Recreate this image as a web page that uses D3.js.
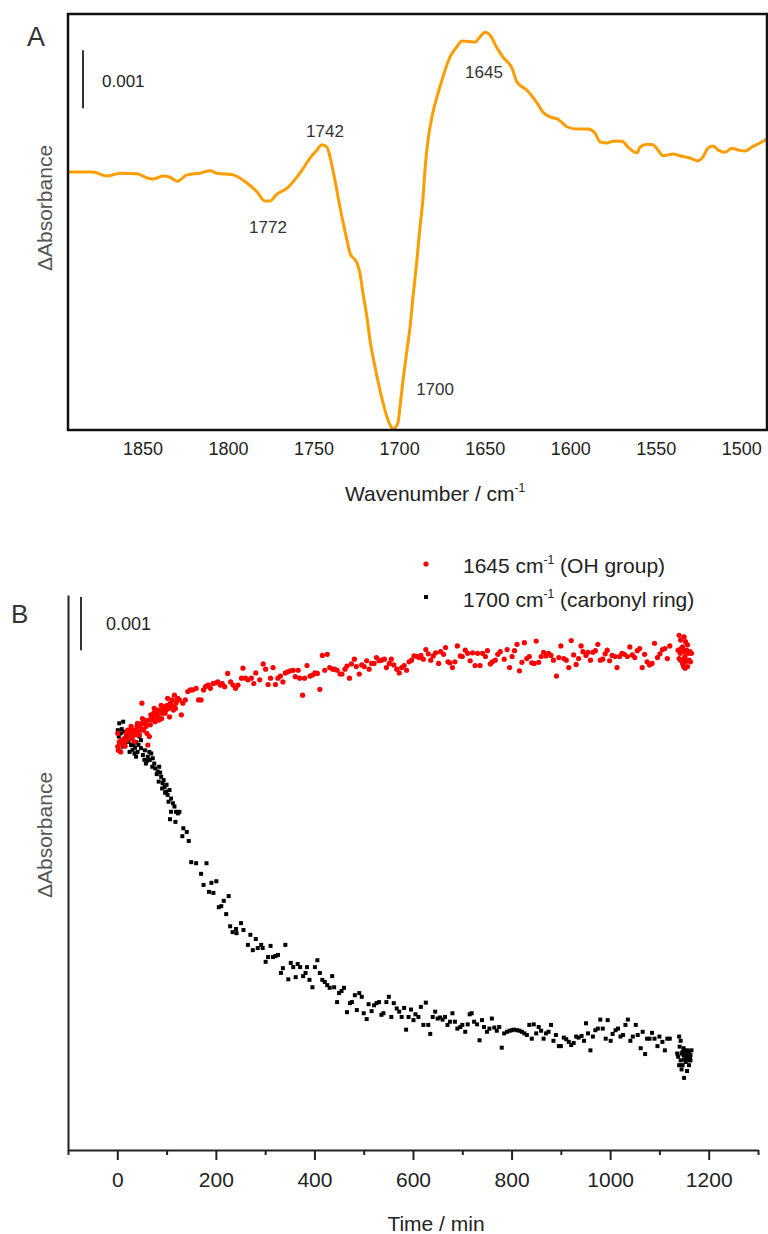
<!DOCTYPE html>
<html>
<head>
<meta charset="utf-8">
<script src="https://cdn.jsdelivr.net/npm/d3@7"></script>
<style>
  body{margin:0;background:#fff;}
  svg{display:block;font-family:"Liberation Sans",Arial,Helvetica,sans-serif;}
</style>
</head>
<body>
<svg id="fig" width="768" height="1234"></svg>
<script>
/* ----- data ------------------------------------------------- */
// panel A : difference spectrum  [wavenumber cm-1, dA x1e-3]
const spectrum = [
  [1893,0.00],[1891.5,0.00],[1879.2,0.00],[1871,-0.07],[1863.4,-0.02],[1853.5,-0.03],[1847.7,-0.10],
  [1844.2,-0.12],[1838.3,-0.07],[1834.2,-0.09],[1830.1,-0.16],[1824.3,-0.05],[1816.7,-0.02],[1810.8,0.02],
  [1806.8,-0.02],[1797.4,-0.05],[1789.2,-0.19],[1783.4,-0.34],[1778.7,-0.50],[1775.8,-0.50],[1771.7,-0.38],
  [1765.8,-0.28],[1762.3,-0.17],[1757.1,0.03],[1752.4,0.24],[1748.3,0.38],[1745.4,0.47],[1742.5,0.43],
  [1740.7,0.26],[1737.8,-0.14],[1734.9,-0.60],[1730.8,-1.17],[1729,-1.40],[1724.9,-1.57],[1723.2,-1.74],
  [1721.4,-2.09],[1719.1,-2.50],[1717.3,-2.90],[1714.4,-3.36],[1711.5,-3.76],[1708.6,-4.10],[1705.6,-4.36],
  [1703.9,-4.43],[1701,-4.33],[1699.8,-4.05],[1698,-3.59],[1695.7,-3.07],[1693.9,-2.67],[1692.2,-2.16],
  [1689.9,-1.52],[1688.1,-0.95],[1686.4,-0.48],[1685.2,0.03],[1683.4,0.55],[1681.1,0.95],[1678.2,1.29],
  [1674.7,1.64],[1670.6,1.98],[1666.5,2.16],[1663.6,2.26],[1656,2.24],[1653,2.33],[1650.1,2.41],
  [1647.2,2.36],[1643.1,2.14],[1639.6,1.98],[1634.3,1.79],[1631.4,1.55],[1625.6,1.41],[1619.7,1.19],
  [1616.2,1.03],[1612.1,0.95],[1607.5,0.91],[1602.2,0.78],[1596.3,0.74],[1589.9,0.74],[1585.8,0.67],
  [1582.9,0.52],[1578.8,0.50],[1575.3,0.53],[1570,0.53],[1566.5,0.43],[1561.3,0.33],[1559.5,0.43],
  [1555.4,0.48],[1551.9,0.47],[1549,0.38],[1546.1,0.28],[1540.2,0.31],[1536.2,0.28],[1530.3,0.24],
  [1525.6,0.19],[1522.7,0.26],[1519.8,0.41],[1516.9,0.45],[1513.9,0.38],[1509.8,0.34],[1505.8,0.41],
  [1502.3,0.38],[1498.1,0.36],[1494.1,0.43],[1489.4,0.50],[1485.3,0.57]
];
const peakTags = ['1772','1742','1645','1700'];
const wnTicks  = [1850,1800,1750,1700,1650,1600,1550,1500];

// panel B : band kinetics  [time min, dA x1e-3]
const ohBand = [   // 1645 cm-1
  [1,0.22],[1,-0.03],[2,-0.10],[4,0.06],[5,0.02],[7,-0.13],[8,0.09],[11,0.00],[12,0.04],[14,0.12],
  [16,-0.02],[18,0.22],[19,0.08],[21,0.28],[23,0.19],[24,0.16],[26,0.28],[28,0.35],[30,0.12],[31,0.22],
  [33,0.28],[35,0.06],[36,0.19],[38,0.28],[40,0.35],[41,0.41],[43,0.25],[45,0.19],[46,0.38],[48,0.31],
  [50,0.41],[50,0.79],[51,0.50],[53,0.28],[55,0.47],[57,0.41],[58,0.35],[60,0.22],[62,0.00],[64,0.47],
  [65,0.16],[67,0.38],[68,0.57],[70,0.53],[72,0.47],[74,0.60],[75,0.69],[77,0.44],[79,0.53],[80,0.60],
  [82,0.66],[83,0.57],[85,0.47],[87,0.66],[89,0.75],[90,0.50],[92,0.60],[94,0.72],[96,0.69],[97,0.60],
  [99,0.66],[101,0.75],[102,0.88],[104,0.69],[106,0.53],[108,0.79],[109,0.75],[111,0.85],[113,0.72],
  [114,0.66],[116,0.94],[118,0.69],[119,0.79],[121,0.85],[123,0.88],[126,0.85],[130,0.57],[133,0.79],
  [138,0.85],[143,1.01],[148,1.04],[153,1.04],[160,1.07],[165,0.85],[170,0.85],[175,1.04],[179,1.10],
  [184,1.13],[189,1.07],[194,1.16],[199,1.17],[204,1.19],[209,1.13],[213,1.16],[218,1.10],[224,1.35],
  [230,1.19],[235,1.13],[240,1.07],[245,1.13],[252,1.26],[255,1.45],[260,1.26],[265,1.23],
  [272,1.26],[277,1.16],[281,1.36],[289,1.23],[296,1.53],[301,1.43],[306,1.14],[311,1.26],[316,1.46],
  [321,1.14],[326,1.26],[331,1.30],[336,1.19],[341,1.36],[346,1.38],[351,1.40],[357,1.41],[361,1.29],
  [367,1.41],[370,1.26],[376,0.94],[380,1.26],[385,1.50],[391,1.30],[396,1.32],[401,1.36],[406,1.35],
  [411,1.05],[416,1.69],[421,1.41],[426,1.71],[431,1.46],[437,1.43],[441,1.43],[446,1.41],[452,1.34],
  [456,1.34],[462,1.43],[466,1.49],[471,1.26],[475,1.53],[481,1.62],[485,1.48],[491,1.34],[496,1.51],
  [501,1.48],[506,1.59],[511,1.43],[516,1.54],[521,1.54],[526,1.65],[531,1.59],[536,1.60],[542,1.62],
  [546,1.46],[552,1.54],[556,1.62],[561,1.51],[567,1.43],[572,1.36],[577,1.46],[582,1.50],[587,1.41],
  [592,1.57],[597,1.60],[602,1.68],[608,1.67],[612,1.65],[616,1.69],[621,1.62],[626,1.80],[631,1.72],
  [636,1.60],[641,1.68],[646,1.74],[652,1.54],[656,1.76],[662,1.71],[666,1.84],[671,1.57],[675,1.55],
  [680,1.46],[685,1.57],[690,1.87],[696,1.68],[700,1.67],[706,1.79],[711,1.73],[716,1.59],[721,1.74],
  [726,1.50],[731,1.73],[736,1.50],[741,1.73],[747,1.67],[751,1.78],[757,1.53],[761,1.57],[767,1.60],
  [772,1.71],[777,1.76],[785,1.62],[791,1.80],[796,1.46],[801,1.67],[806,1.78],[811,1.90],[816,1.40],
  [821,1.56],[826,1.93],[831,1.63],[836,1.67],[841,1.55],[846,1.54],[850,1.96],[855,1.56],[860,1.67],
  [865,1.75],[870,1.68],[875,1.73],[880,1.69],[885,1.60],[891,1.30],[896,1.65],[900,1.87],[906,1.63],
  [911,1.60],[916,1.46],[921,1.97],[926,1.70],[931,1.52],[936,1.63],[941,1.87],[945,1.76],[951,1.69],
  [955,1.75],[960,1.60],[965,1.75],[970,1.78],[975,1.90],[980,1.60],[985,1.62],[990,1.72],[994,1.79],
  [999,1.59],[1004,1.69],[1010,1.67],[1014,1.46],[1019,1.67],[1024,1.73],[1029,1.71],[1035,1.67],
  [1040,1.85],[1045,1.70],[1050,1.65],[1055,1.78],[1060,1.82],[1065,1.46],[1070,1.71],[1075,1.57],
  [1080,1.51],[1085,1.54],[1090,1.92],[1096,1.65],[1101,1.72],[1106,1.80],[1111,1.82],[1116,1.63],
  [1121,1.87],[1140,2.07],[1143,1.98],[1147,1.85],[1150,2.04],[1153,1.95],[1157,1.89],[1138,1.79],
  [1142,1.73],[1144,1.82],[1149,1.76],[1152,1.67],[1155,1.79],[1159,1.73],[1162,1.76],[1165,1.73],
  [1143,1.60],[1147,1.54],[1150,1.63],[1153,1.57],[1157,1.48],[1160,1.60],[1163,1.57],[1149,1.48],
  [1152,1.45],[1140,1.63]
];
const coBand = [   // 1700 cm-1
  [4,0.41],[12,0.44],[1,0.28],[7,0.22],[3,0.16],[5,0.03],[3,-0.10],[11,-0.03],[18,0.16],[23,0.06],
  [28,0.00],[25,-0.13],[31,-0.09],[35,-0.16],[38,-0.22],[41,-0.13],[43,0.00],[48,-0.06],[48,0.09],
  [45,0.16],[9,0.30],[14,0.25],[16,0.05],[20,0.10],[33,0.02],[36,-0.05],[39,0.05],[52,-0.19],[55,-0.28],
  [56,-0.10],[58,-0.35],[60,-0.30],[62,-0.22],[65,-0.13],[66,-0.28],[69,-0.16],[72,-0.25],[75,-0.35],
  [71,-0.41],[77,-0.44],[80,-0.55],[82,-0.50],[85,-0.41],[87,-0.52],[89,-0.60],[84,-0.69],[92,-0.72],
  [91,-0.82],[94,-0.66],[96,-0.79],[97,-0.90],[99,-0.88],[100,-0.75],[102,-0.94],[106,-0.85],[109,-1.01],
  [104,-1.07],[113,-1.10],[116,-1.16],[119,-1.26],[123,-1.29],[126,-1.26],[109,-1.26],[107,-1.40],
  [118,-1.45],[134,-1.57],[141,-1.64],[132,-1.72],[145,-1.81],
  [150,-2.21],[160,-2.23],[181,-2.23],[170,-2.43],[175,-2.64],[191,-2.60],[201,-2.57],[186,-2.77],
  [195,-2.79],[206,-3.06],[211,-3.04],[216,-2.94],[226,-2.85],[221,-3.19],[229,-3.42],[234,-3.53],
  [241,-3.47],[242,-3.55],[251,-3.36],[256,-3.49],[265,-3.77],[270,-3.58],[275,-3.87],[281,-3.66],
  [285,-3.83],[292,-3.77],[295,-3.83],[301,-4.09],[306,-4.00],[311,-3.79],[316,-4.00],[321,-3.98],
  [326,-3.96],[332,-4.30],[336,-4.21],[341,-3.77],[347,-4.42],[352,-4.11],[357,-4.19],[362,-4.38],
  [366,-4.13],[371,-4.19],[377,-4.36],[382,-4.30],[385,-4.19],[390,-4.43],[396,-4.57],[401,-4.19],
  [406,-4.06],[411,-4.30],[416,-4.43],[421,-4.47],[426,-4.53],[431,-4.58],[436,-4.36],[440,-4.57],
  [446,-4.85],[450,-4.68],[455,-4.64],[460,-4.58],[466,-5.04],[472,-4.87],[476,-4.85],[482,-4.72],
  [486,-5.00],[491,-4.68],[496,-4.75],[500,-5.06],[506,-5.17],[510,-4.89],[516,-5.02],[521,-4.91],
  [526,-4.87],[531,-4.85],[536,-5.09],[540,-5.06],[546,-4.85],[551,-4.75],[556,-5.13],[561,-4.87],
  [567,-4.97],[572,-5.03],[577,-5.13],[582,-4.96],[586,-5.37],[591,-5.13],[596,-4.99],[601,-5.19],
  [605,-5.08],[611,-5.13],[616,-4.94],[621,-5.28],[626,-4.86],[631,-5.28],[635,-5.45],[640,-5.13],
  [645,-5.03],[650,-5.16],[655,-5.14],[660,-5.18],[665,-5.13],[670,-5.28],[675,-5.22],[680,-5.06],
  [685,-5.22],[690,-5.35],[696,-5.32],[700,-5.28],[706,-5.41],[711,-5.27],[715,-5.08],[719,-5.06],
  [724,-5.22],[730,-5.27],[735,-5.57],[740,-5.19],[744,-5.32],[750,-5.41],[755,-5.35],[760,-5.16],
  [765,-5.33],[770,-5.39],[775,-5.32],[780,-5.71],[785,-5.44],[791,-5.41],[796,-5.39],
  [801,-5.38],[805,-5.37],[811,-5.38],[816,-5.39],[821,-5.41],[826,-5.44],[831,-5.47],[836,-5.28],
  [841,-5.54],[845,-5.27],[850,-5.44],[855,-5.32],[860,-5.39],[865,-5.54],[870,-5.44],[875,-5.41],
  [880,-5.28],[885,-5.58],[890,-5.47],[896,-5.68],[900,-5.68],[906,-5.52],[911,-5.55],[916,-5.60],
  [921,-5.66],[926,-5.62],[931,-5.50],[936,-5.52],[942,-5.49],[947,-5.58],[951,-5.25],[955,-5.44],
  [960,-5.76],[965,-5.50],[970,-5.38],[975,-5.35],[980,-5.18],[985,-5.35],[991,-5.54],[995,-5.19],
  [1001,-5.58],[1005,-5.45],[1011,-5.38],[1016,-5.35],[1021,-5.50],[1026,-5.47],[1031,-5.28],
  [1036,-5.18],[1041,-5.58],[1046,-5.50],[1052,-5.28],[1056,-5.47],[1062,-5.72],[1066,-5.41],
  [1071,-5.83],[1075,-5.54],[1080,-5.54],[1085,-5.43],[1090,-5.54],[1096,-5.68],[1100,-5.50],
  [1106,-5.60],[1111,-5.76],[1116,-5.54],[1121,-5.54],
  [1143,-5.58],[1141,-5.69],[1136,-5.82],[1138,-5.88],[1147,-5.79],[1149,-5.85],[1151,-5.76],
  [1155,-5.82],[1158,-5.88],[1160,-5.79],[1163,-5.85],[1165,-5.76],[1143,-5.95],[1150,-5.93],
  [1153,-5.98],[1157,-5.95],[1162,-5.91],[1140,-6.04],[1147,-6.04],[1160,-6.04],[1145,-5.82],
  [1154,-5.88],[1149,-5.72],[1157,-5.76],[1163,-5.95],[1150,-6.28],[1145,-6.12],[1156,-6.15],[1140,-5.50]
];
const timeTicks = [0,200,400,600,800,1000,1200];
const timeMinor = [-100,100,300,500,700,900,1100,1300];
const legendBands = ['1645','1700'];
const legendNotes = [' (OH group)',' (carbonyl ring)'];

/* ----- setup ------------------------------------------------ */
const svg = d3.select('#fig');
const FONT = '"Liberation Sans", Arial, Helvetica, sans-serif';
const ink  = '#222';

/* ----- panel A ---------------------------------------------- */
const A  = {l:68, r:767, t:14, b:430};
const xA = d3.scaleLinear().domain([1893.8,1485.3]).range([A.l,A.r]);
const yA = d3.scaleLinear().domain([-4.448,2.724]).range([A.b,A.t]);
const gA = svg.append('g');

svg.append('defs').append('clipPath').attr('id','clipA')
  .append('rect').attr('x',A.l).attr('y',A.t)
  .attr('width',A.r-A.l).attr('height',A.b-A.t);

gA.append('path').datum(spectrum)
  .attr('clip-path','url(#clipA)')
  .attr('fill','none').attr('stroke','#ff9c00').attr('stroke-width',3)
  .attr('stroke-linejoin','round').attr('stroke-linecap','round')
  .attr('d',d3.line().x(d=>xA(d[0])).y(d=>yA(d[1])).curve(d3.curveMonotoneX));

gA.append('rect')
  .attr('x',A.l).attr('y',A.t).attr('width',A.r-A.l).attr('height',A.b-A.t)
  .attr('fill','none').attr('stroke','#111').attr('stroke-width',2.5);

gA.selectAll('.tickA').data(wnTicks).join('text')
  .attr('class','tickA')
  .attr('x',d=>xA(d)).attr('y',455).attr('text-anchor','middle')
  .attr('fill',ink).style('font-size','18px').text(d=>d);

const titA = gA.append('text').attr('x',345).attr('y',501)
  .attr('fill',ink).style('font-size','21px');
titA.append('tspan').text('Wavenumber / cm');
titA.append('tspan').attr('dy',-9).style('font-size','12px').text('-1');

gA.append('text').attr('transform','translate(52,208) rotate(-90)')
  .attr('text-anchor','middle').attr('fill','#555').style('font-size','21px')
  .text('ΔAbsorbance');

gA.append('text').attr('x',27).attr('y',46).attr('fill','#333')
  .style('font-size','27px').text('A');

/* scale bar 0.001 */
gA.append('line').attr('x1',83).attr('x2',83)
  .attr('y1',yA(2.10)).attr('y2',yA(1.10))
  .attr('stroke','#333').attr('stroke-width',2);
gA.append('text').attr('x',102).attr('y',87).attr('fill',ink)
  .style('font-size','17px').text('0.001');

/* peak tags: anchor point in data coords */
const tagAt = {'1772':[1776.9,-1.05],'1742':[1743.6,0.60],'1645':[1650.7,1.62],'1700':[1679.3,-3.84]};
gA.selectAll('.tag').data(peakTags).join('text')
  .attr('class','tag')
  .attr('x',d=>xA(tagAt[d][0])).attr('y',d=>yA(tagAt[d][1]))
  .attr('text-anchor','middle').attr('fill','#333')
  .style('font-size','17px').text(d=>d);

/* ----- panel B ---------------------------------------------- */
const B  = {l:68, r:758, t:595, b:1150};
const xB = d3.scaleLinear().domain([-100,1300]).range([B.l,B.r]);
const yB = d3.scaleLinear().domain([-7.64,2.83]).range([B.b,B.t]);
const gB = svg.append('g');

const axMajor = gB.append('g').attr('transform',`translate(0,${B.b})`)
  .call(d3.axisBottom(xB).tickValues(timeTicks).tickFormat(d3.format('d'))
    .tickSize(10).tickSizeOuter(0).tickPadding(12));
axMajor.attr('font-family',FONT).attr('font-size',21);
axMajor.select('.domain').attr('stroke','#222').attr('stroke-width',2);
axMajor.selectAll('.tick line').attr('stroke','#222').attr('stroke-width',2);
axMajor.selectAll('.tick text').attr('fill',ink);

const axMinor = gB.append('g').attr('transform',`translate(0,${B.b})`)
  .call(d3.axisBottom(xB).tickValues(timeMinor).tickSize(5).tickSizeOuter(0).tickFormat(''));
axMinor.select('.domain').remove();
axMinor.selectAll('.tick line').attr('stroke','#222').attr('stroke-width',2);

const axLeft = gB.append('g').attr('transform',`translate(${B.l},0)`)
  .call(d3.axisLeft(yB).tickValues([]).tickSizeOuter(0));
axLeft.select('.domain').attr('stroke','#222').attr('stroke-width',2);

gB.selectAll('.co').data(coBand).join('rect')
  .attr('class','co')
  .attr('x',d=>xB(d[0])-2).attr('y',d=>yB(d[1])-2)
  .attr('width',4).attr('height',4).attr('fill','#000');

gB.selectAll('.oh').data(ohBand).join('circle')
  .attr('class','oh')
  .attr('cx',d=>xB(d[0])).attr('cy',d=>yB(d[1])).attr('r',2.6)
  .attr('fill','#ff0000');

gB.append('text').attr('x',436).attr('y',1231).attr('text-anchor','middle')
  .attr('fill',ink).style('font-size','21px').text('Time / min');

gB.append('text').attr('transform','translate(52,835) rotate(-90)')
  .attr('text-anchor','middle').attr('fill','#555').style('font-size','21px')
  .text('ΔAbsorbance');

gB.append('text').attr('x',11).attr('y',623).attr('fill','#333')
  .style('font-size','26px').text('B');

gB.append('line').attr('x1',81).attr('x2',81)
  .attr('y1',yB(2.79)).attr('y2',yB(1.79))
  .attr('stroke','#333').attr('stroke-width',2);
gB.append('text').attr('x',106).attr('y',630).attr('fill',ink)
  .style('font-size','18px').text('0.001');

/* legend */
const leg = gB.append('g');
leg.append('circle').attr('cx',426).attr('cy',564).attr('r',2.6).attr('fill','#ff0000');
leg.append('rect').attr('x',424).attr('y',595).attr('width',4).attr('height',4).attr('fill','#000');
legendBands.forEach((b,i)=>{
  const t = leg.append('text').attr('x',463).attr('y',573+i*34)
    .attr('fill',ink).style('font-size','21px');
  t.append('tspan').text(b+' cm');
  t.append('tspan').attr('dy',-9).style('font-size','12px').text('-1');
  t.append('tspan').attr('dy',9).text(legendNotes[i]);
});
</script>
</body>
</html>
